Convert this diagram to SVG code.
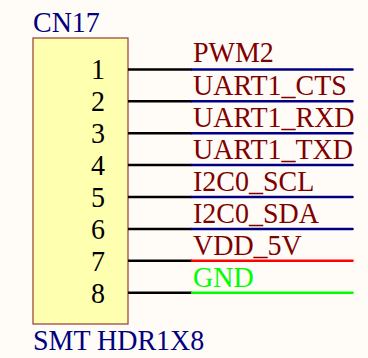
<svg xmlns="http://www.w3.org/2000/svg" width="368" height="358" viewBox="0 0 368 358">
<style>
.t{font-family:"Liberation Serif","Times New Roman",serif;font-size:28px}
.des{fill:#000080}
.pin{fill:#000000;text-anchor:end}
.net{fill:#800000}
.lead{stroke:#000000;stroke-width:2.6;fill:none}
.w{stroke-width:2.6;fill:none;stroke-linecap:round}
</style>
<rect width="368" height="358" fill="#FFFCF8"/>
<g id="CN17">
<rect x="33" y="38" width="95" height="286" fill="#FFFFB0" stroke="#A04840" stroke-width="1.3"/>
<text class="t des" transform="translate(33,31.5) scale(1,1.05)">CN17</text>
<text class="t des" transform="translate(33,350) scale(1,1.05)">SMT HDR1X8</text>
<text class="t pin" transform="translate(105,79) scale(1,1.05)">1</text>
<text class="t pin" transform="translate(105,111) scale(1,1.05)">2</text>
<text class="t pin" transform="translate(105,143) scale(1,1.05)">3</text>
<text class="t pin" transform="translate(105,175) scale(1,1.05)">4</text>
<text class="t pin" transform="translate(105,207) scale(1,1.05)">5</text>
<text class="t pin" transform="translate(105,239) scale(1,1.05)">6</text>
<text class="t pin" transform="translate(105,270.5) scale(1,1.05)">7</text>
<text class="t pin" transform="translate(105,302.5) scale(1,1.05)">8</text>
</g>
<g id="connectors">
<path class="lead" d="M128 69.5H192M128 101.3H192M128 133.2H192M128 165H192M128 197H192M128 229H192M128 260.7H192M128 292.7H192"/>
<path class="w" stroke="#000080" d="M192 69.5H352.5M192 101.3H352.5M192 133.2H352.5M192 165H352.5M192 197H352.5M192 229H352.5"/>
<path class="w" stroke="#FF0000" d="M192 260.7H352.5"/>
<path class="w" stroke="#00FF00" d="M192 292.7H352.5"/>
</g>
<g id="labels">
<text class="t net" transform="translate(193,62.3) scale(1,1.05)">PWM2</text>
<text class="t net" transform="translate(193,95) scale(1,1.05)">UART1_CTS</text>
<text class="t net" transform="translate(193,127) scale(1,1.05)">UART1_RXD</text>
<text class="t net" transform="translate(193,159) scale(1,1.05)">UART1_TXD</text>
<text class="t net" transform="translate(193,191) scale(1,1.05)">I2C0_SCL</text>
<text class="t net" transform="translate(193,223) scale(1,1.05)">I2C0_SDA</text>
<text class="t net" transform="translate(193,254.5) scale(1,1.05)">VDD_5V</text>
<text class="t" fill="#00FF00" transform="translate(193,286.5) scale(1,1.05)">GND</text>
</g>
</svg>
